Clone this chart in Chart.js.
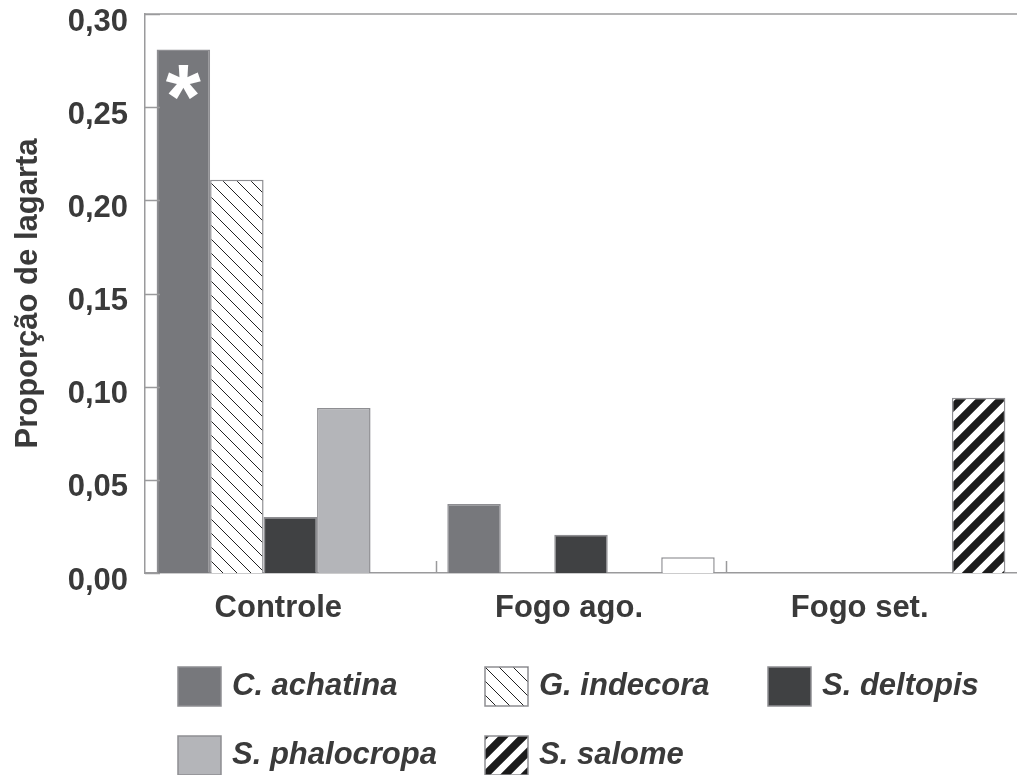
<!DOCTYPE html>
<html>
<head>
<meta charset="utf-8">
<script src="https://cdn.jsdelivr.net/npm/chart.js@4.4.1/dist/chart.umd.min.js"></script>
<style>
  html, body { margin: 0; padding: 0; background: #fff; }
  #wrap { width: 1017px; height: 775px; position: relative; }
</style>
</head>
<body>
<div id="wrap"><canvas id="chart"></canvas></div>
<script>
const groups = ['Controle', 'Fogo ago.', 'Fogo set.'];
const species = ['C. achatina', 'G. indecora', 'S. deltopis', 'S. phalocropa', 'S. salome'];
const achatina = [0.281, 0.037, 0];
const indecora = [0.211, 0, 0];
const deltopis = [0.030, 0.0205, 0];
const phalocropa = [0.0885, 0, 0];
const salome = [0, 0.0085, 0.094];
const yMax = 0.30;
const yStep = 0.05;

const FONT = "'Liberation Sans', Arial, sans-serif";
const TEXT = '#3a3a3a';
const AXIS = '#9a9a9c';
const EDGE = '#8e8e92';

const canvas = document.getElementById('chart');
const ctx = canvas.getContext('2d');

// hatch fills: 'back' = \ lines, 'fwd' = / stripes
const makePattern = (size, dir, lineWidth, color) => {
  const c = document.createElement('canvas');
  c.width = size; c.height = size;
  const g = c.getContext('2d');
  g.fillStyle = '#fff';
  g.fillRect(0, 0, size, size);
  g.strokeStyle = color;
  g.lineWidth = lineWidth;
  g.beginPath();
  [-size, 0, size].forEach(off => {
    if (dir === 'back') { g.moveTo(off - size, -size); g.lineTo(off + 2 * size, 2 * size); }
    else { g.moveTo(off - size, 2 * size); g.lineTo(off + 2 * size, -size); }
  });
  g.stroke();
  return ctx.createPattern(c, 'repeat');
};

const thinHatch = makePattern(14, 'back', 1, '#222');
const thickStripes = makePattern(20, 'fwd', 7.5, '#1b1b1b');

const fills = ['#77787c', thinHatch, '#404143', '#b4b5b9', thickStripes];
const series = [achatina, indecora, deltopis, phalocropa, salome];

const datasets = species.map((name, i) => ({
  label: name,
  data: series[i],
  backgroundColor: i === 4 ? [thickStripes, '#ffffff', thickStripes] : fills[i],
  borderColor: EDGE,
  borderWidth: 1.5,
  borderSkipped: 'bottom',
  barPercentage: 1.0,
  categoryPercentage: 0.92
}));

const decor = {
  id: 'decor',
  afterDatasetsDraw(chart) {
    const { ctx, chartArea: a, scales: { x, y } } = chart;
    ctx.save();
    ctx.strokeStyle = AXIS;
    ctx.lineWidth = 1.5;
    ctx.beginPath();
    ctx.moveTo(a.left, a.top);
    ctx.lineTo(a.right, a.top);
    // y ticks drawn inward
    y.ticks.forEach(t => {
      const py = Math.round(y.getPixelForValue(t.value)) + 0.5;
      ctx.moveTo(a.left, py);
      ctx.lineTo(a.left + 15, py);
    });
    // separators between the groups
    for (let i = 1; i < groups.length; i++) {
      const px = Math.round((x.getPixelForValue(i - 1) + x.getPixelForValue(i)) / 2) + 0.5;
      ctx.moveTo(px, a.bottom);
      ctx.lineTo(px, a.bottom - 12);
    }
    ctx.stroke();

    // significance mark on the first bar
    const bar = chart.getDatasetMeta(0).data[0];
    ctx.fillStyle = '#ffffff';
    ctx.font = `bold 90px ${FONT}`;
    ctx.textAlign = 'center';
    ctx.textBaseline = 'alphabetic';
    const m = ctx.measureText('*');
    ctx.fillText('*', bar.x, bar.y + 16 + m.actualBoundingBoxAscent);
    ctx.restore();
  },
  afterDraw(chart) {
    const { ctx } = chart;
    const cols = [178, 485, 768];
    const rows = [686, 755];
    ctx.save();
    ctx.font = `italic bold 31px ${FONT}`;
    ctx.textBaseline = 'middle';
    ctx.textAlign = 'left';
    chart.data.datasets.forEach((ds, i) => {
      const bx = cols[i % 3];
      const cy = rows[Math.floor(i / 3)];
      const fill = Array.isArray(ds.backgroundColor) ? ds.backgroundColor[0] : ds.backgroundColor;
      ctx.fillStyle = fill;
      ctx.fillRect(bx, cy - 19, 43, 39);
      ctx.strokeStyle = EDGE;
      ctx.lineWidth = 1.5;
      ctx.strokeRect(bx, cy - 19, 43, 39);
      ctx.fillStyle = TEXT;
      ctx.fillText(ds.label, bx + 54, cy);
    });
    ctx.restore();
  }
};

new Chart(ctx, {
  type: 'bar',
  data: { labels: groups, datasets },
  options: {
    responsive: true,
    maintainAspectRatio: false,
    animation: false,
    layout: { padding: { top: 14, right: 0, bottom: 0, left: 0 } },
    plugins: {
      legend: { display: false },
      tooltip: { enabled: false }
    },
    scales: {
      x: {
        grid: { display: false },
        border: { display: true, color: AXIS, width: 1.5 },
        ticks: {
          color: TEXT,
          font: { family: FONT, size: 31, weight: 'bold' },
          padding: 9,
          labelOffset: -12,
          maxRotation: 0
        },
        afterFit: s => { s.height = 202; s.paddingLeft = 0; s.paddingRight = 0; }
      },
      y: {
        min: 0,
        max: yMax,
        grid: { display: false, drawTicks: false },
        border: { display: true, color: AXIS, width: 1.5 },
        ticks: {
          stepSize: yStep,
          color: TEXT,
          padding: 17,
          labelOffset: 8,
          font: { family: FONT, size: 31, weight: 'bold' },
          callback: v => v.toFixed(2).replace('.', ',')
        },
        title: {
          display: true,
          text: 'Proporção de lagarta',
          color: TEXT,
          font: { family: FONT, size: 31, weight: 'bold' },
          padding: { top: 10, bottom: 0 }
        },
        afterFit: s => { s.width = 145; s.paddingTop = 0; s.paddingBottom = 0; }
      }
    }
  },
  plugins: [decor]
});
</script>
</body>
</html>
